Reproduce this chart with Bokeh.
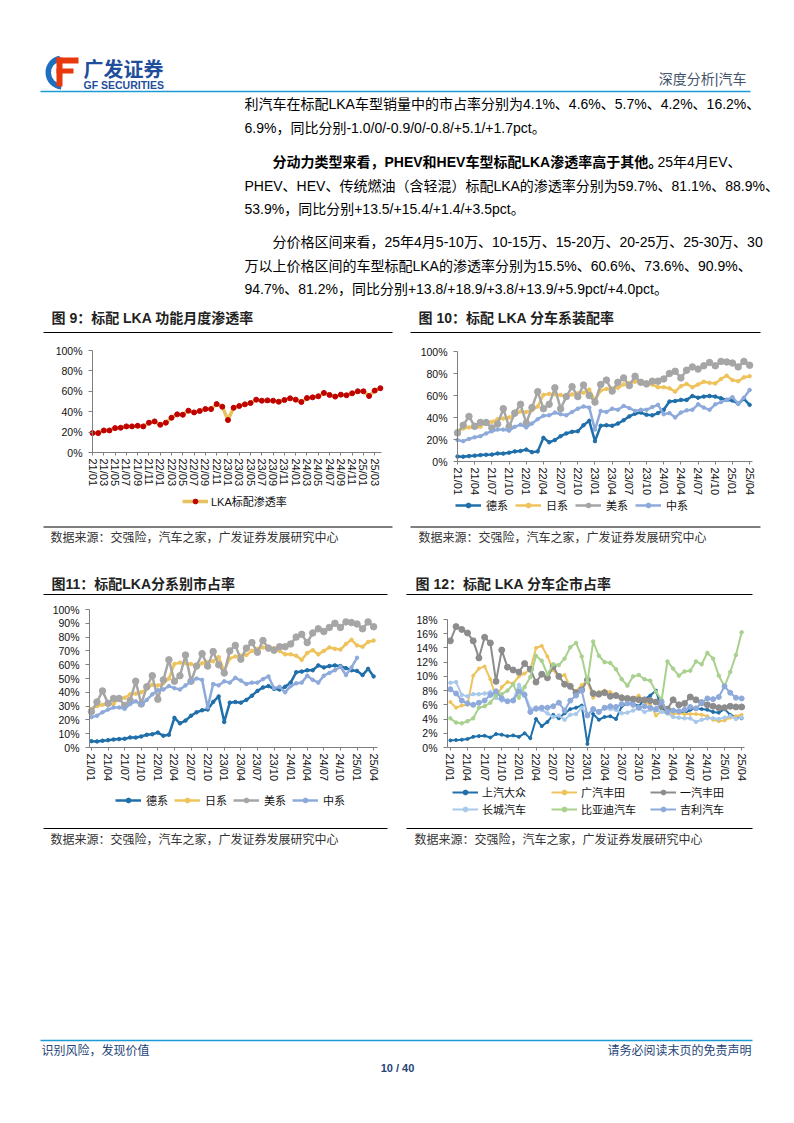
from bokeh.plotting import figure
from bokeh.layouts import column, row
from bokeh.models import Range1d, FixedTicker, PrintfTickFormatter, Legend, LegendItem
from bokeh.core.properties import value
from bokeh.embed import file_html
from bokeh.resources import INLINE
import math

# ---------------- data ----------------
months = ["21/01", "21/02", "21/03", "21/04", "21/05", "21/06", "21/07", "21/08", "21/09", "21/10", "21/11", "21/12",
          "22/01", "22/02", "22/03", "22/04", "22/05", "22/06", "22/07", "22/08", "22/09", "22/10", "22/11", "22/12",
          "23/01", "23/02", "23/03", "23/04", "23/05", "23/06", "23/07", "23/08", "23/09", "23/10", "23/11", "23/12",
          "24/01", "24/02", "24/03", "24/04", "24/05", "24/06", "24/07", "24/08", "24/09", "24/10", "24/11", "24/12",
          "25/01", "25/02", "25/03", "25/04"]

# Fig 9: LKA standard-fit penetration (%)
lka_rate = [19.0, 19.0, 21.6, 21.6, 23.9, 24.3, 25.6, 25.6, 26.2, 25.6,
            29.2, 30.5, 27.2, 29.2, 34.1, 37.4, 37.0, 41.0, 39.3, 40.7,
            42.6, 42.6, 47.5, 44.9, 31.8, 43.9, 45.6, 47.2, 48.5, 51.8,
            50.8, 51.1, 50.8, 49.8, 51.5, 53.1, 51.8, 49.5, 53.4, 54.1,
            55.1, 58.4, 56.4, 54.8, 56.7, 56.1, 58.0, 60.0, 60.0, 55.4,
            60.7, 63.0]

# Fig 10 / 11: by brand origin (%)
german = [4.6, 4.4, 4.9, 5.3, 5.8, 6.1, 6.3, 7.3, 7.2, 8.0,
          9.2, 9.6, 10.8, 8.5, 9.2, 21.5, 17.5, 19.5, 23.0, 25.5,
          27.0, 27.5, 33.0, 37.0, 18.5, 32.5, 33.0, 32.5, 34.5, 37.5,
          41.0, 43.5, 44.5, 42.5, 42.0, 44.0, 47.0, 54.5, 55.0, 56.0,
          56.0, 59.5, 58.0, 59.0, 59.5, 59.0, 57.5, 56.0, 55.5, 52.5,
          57.0, 51.5]
japanese = [28, 30, 31, 31, 31.5, 36, 36, 38.5, 39, 40,
            42.5, 45.5, 45, 46.5, 50, 60.5, 61.5, 61, 60.5, 59,
            61, 62, 62.5, 65.5, 55.5, 64.5, 66, 66.5, 67, 70,
            71.5, 72.5, 73, 72, 70, 67.5, 67.5, 66.5, 63.5, 68.5,
            70.5, 67.5, 70, 72.5, 71.5, 71, 75, 78, 74, 73,
            76.5, 77.5]
american = [26, 33, 41, 32, 35.5, 35.5, 30.5, 34, 48, 31.5,
            44, 52, 35, 49, 63.5, 48, 52, 67, 48, 59,
            68, 59, 69.5, 60, 54, 70, 74, 64, 72, 76,
            69, 77.5, 72, 70.5, 73, 73, 75, 80, 82, 76,
            83, 86, 84, 87, 90, 87, 91, 90.5, 89.5, 86,
            91, 87.5]
chinese10 = [19.5, 18.5, 20.5, 22, 23, 25.5, 27.5, 29, 29, 28,
             31.5, 33.5, 31, 34.5, 38.5, 41.5, 42, 44.5, 43, 42,
             45, 48, 50, 49, 29, 46, 45, 48, 47, 50.5,
             48.5, 46, 47, 47, 49.5, 51.5, 43, 44, 40, 44.5,
             46.5, 47, 52, 49, 47, 52, 54, 56, 58.5, 52.5,
             58, 65]
chinese11 = [22, 23, 25.5, 27.5, 29, 29, 28, 31.5, 33.5, 31,
             34.5, 38.5, 41.5, 42, 44.5, 43, 42, 45, 48, 50,
             49, 29, 46, 45, 48, 47, 50.5, 48.5, 46, 47,
             47, 49.5, 51.5, 43, 44, 40, 44.5, 46.5, 47, 52,
             49, 47, 52, 54, 56, 58.5, 52.5, 58, 65]

# Fig 12: by automaker (%)
saic_vw = [1.0, 1.05, 1.1, 1.2, 1.5, 1.6, 1.65, 1.4, 1.9, 1.8,
           1.6, 1.7, 1.5, 2.0, 1.3, 4.0, 3.0, 3.6, 4.6, 4.1,
           4.8, 5.4, 5.6, 5.9, 0.5, 4.7, 3.9, 4.3, 4.4, 4.0,
           5.8, 6.2, 6.2, 5.8, 6.8, 7.3, 8.0, 5.4, 5.2, 5.1,
           5.1, 4.8, 5.3, 5.5, 5.4, 5.3, 5.0, 4.9, 5.4, 4.6,
           4.3, 4.1]
gac_toyota = [6.4, 5.6, 5.9, 6.0, 10.1, 11.1, 11.4, 9.6, 7.0, 8.5,
              9.2, 9.0, 10.0, 10.4, 11.0, 14.0, 14.3, 12.8, 10.9, 9.9,
              10.2, 8.5, 7.9, 8.8, 9.3, 7.0, 7.8, 8.0, 7.8, 7.3,
              6.8, 6.6, 7.0, 7.3, 6.4, 6.0, 4.5, 5.1, 4.8, 4.7,
              4.8, 4.7, 4.7, 4.7, 4.6, 4.4, 3.9, 3.7, 3.8, 4.2,
              4.4, 4.6]
faw_toyota = [15.0, 17.0, 16.6, 16.1, 15.0, 12.6, 15.5, 14.7, 9.3, 13.7,
              11.3, 10.9, 10.6, 11.8, 11.0, 9.2, 10.3, 9.8, 11.4, 10.0,
              8.9, 8.6, 7.7, 8.1, 9.5, 7.6, 7.5, 7.7, 7.2, 7.3,
              7.0, 6.9, 6.8, 6.7, 6.7, 6.6, 6.4, 5.8, 5.4, 6.7,
              6.0, 6.2, 7.1, 6.7, 6.3, 6.0, 5.8, 5.6, 5.6, 5.8,
              5.7, 5.7]
gwm = [9.1, 9.2, 7.4, 7.2, 7.5, 7.5, 7.6, 7.8, 7.0, 6.6,
       6.5, 6.7, 8.8, 7.6, 5.5, 5.3, 5.3, 4.8, 4.3, 4.5,
       3.9, 4.6, 4.7, 5.6, 4.6, 5.3, 5.1, 5.5, 5.4, 5.3,
       4.8, 4.9, 5.2, 5.5, 5.0, 5.3, 5.2, 5.0, 4.8, 4.3,
       4.2, 4.1, 4.1, 3.6, 3.9, 4.1, 4.1, 4.0, 4.2, 4.4,
       4.0, 4.2]
byd = [4.1, 3.5, 3.4, 3.7, 4.1, 5.6, 5.8, 6.3, 7.3, 7.5,
       8.0, 8.9, 7.0, 8.5, 9.9, 12.9, 12.2, 10.3, 11.7, 11.6,
       12.5, 14.1, 14.7, 12.8, 9.2, 14.9, 12.9, 12.0, 11.9, 11.0,
       9.6, 8.7, 10.0, 10.2, 9.6, 9.4, 7.8, 6.7, 12.1, 11.1,
       10.1, 10.7, 10.8, 12.1, 11.7, 13.3, 12.5, 10.1, 8.6, 10.6,
       13.0, 16.2]
geely = [8.2, 7.6, 6.6, 6.2, 6.0, 6.3, 6.6, 7.4, 7.9, 6.9,
         6.5, 6.6, 7.9, 7.4, 5.0, 5.5, 5.6, 5.6, 5.8, 6.3,
         5.2, 6.6, 7.3, 8.0, 4.5, 5.4, 5.0, 5.6, 5.8, 5.7,
         6.1, 6.2, 6.0, 5.6, 5.8, 5.6, 5.4, 6.4, 5.0, 5.2,
         5.1, 5.3, 5.7, 5.5, 6.3, 6.9, 6.8, 7.1, 8.6, 7.7,
         7.0, 6.9]

origin_names = ["德系", "日系", "美系", "中系"]
maker_names = ["上汽大众", "广汽丰田", "一汽丰田", "长城汽车", "比亚迪汽车", "吉利汽车"]

# ---------------- styles ----------------
FONT = "Liberation Sans, Noto Sans CJK SC"
AXIS_C = "#7F7F7F"
C_DE = "#1F6FAA"
C_JP = "#EFC35B"
C_US = "#A6A6A6"
C_CN = "#8EAADB"
C_FAW = "#8C8C8C"
C_GWM = "#A9C9EB"
C_BYD = "#A9D18E"
HEAD_BLUE = "#1D9BD7"
FOOT_BLUE = "#264478"
PAGE_W = 794


def page_block(y0, y1):
    p = figure(width=PAGE_W, height=y1 - y0, x_range=Range1d(0, PAGE_W), y_range=Range1d(y1, y0),
               output_backend="svg", toolbar_location=None, x_axis_type=None, y_axis_type=None,
               title=None, min_border=0)
    p.outline_line_color = None
    return p


def txt(p, x, y, s, size="14px", color="#000000", bold=False, align="left"):
    p.text(x=[x], y=[y], text=[s], text_font=value(FONT), text_font_size=value(size),
           text_font_style="bold" if bold else "normal", text_color=color,
           text_align=align, text_baseline="middle")


def rule(p, x0, x1, y, color="#000000", w=1.0):
    p.segment(x0=[x0], y0=[y], x1=[x1], y1=[y], line_color=color, line_width=w)


def chart(w, h, L, R, T, B, x0, x1, ymax, ystep, tick_step):
    # The frame fills the whole figure; the data box [x0,x1]x[0,ymax] sits at
    # pixels L..R / T..B inside it, and both axes are fixed at the box edges so
    # that tick labels and legend are never clipped.
    sx = (x1 - x0) / (R - L)
    sy = ymax / (B - T)
    p = figure(width=w, height=h,
               x_range=Range1d(x0 - L * sx, x1 + (w - R) * sx),
               y_range=Range1d(-(h - B) * sy, ymax + T * sy),
               output_backend="svg", toolbar_location=None, title=None, min_border=0)
    p.grid.visible = False
    p.outline_line_color = None
    xa = p.xaxis[0]
    ya = p.yaxis[0]
    xa.fixed_location = 0
    xa.bounds = (x0, x1)
    ya.fixed_location = x0
    ya.bounds = (0, ymax)
    ticks = list(range(0, len(months), tick_step))
    xa.ticker = FixedTicker(ticks=ticks)
    xa.major_label_overrides = {t: months[t] for t in ticks}
    xa.major_label_orientation = "vertical"
    ya.ticker = FixedTicker(ticks=list(range(0, ymax + 1, ystep)))
    ya.formatter = PrintfTickFormatter(format="%d%%")
    for ax in (xa, ya):
        ax.axis_line_color = AXIS_C
        ax.axis_line_width = 1
        ax.major_tick_line_color = AXIS_C
        ax.major_tick_in = 0
        ax.minor_tick_line_color = None
        ax.major_label_text_font = "Liberation Sans"
        ax.major_label_text_color = "#111111"
    xa.major_tick_out = 3
    xa.major_label_standoff = 3
    xa.major_label_text_font_size = "11px"
    ya.major_tick_out = 4
    ya.major_label_standoff = 6
    ya.major_label_text_font_size = "10.5px"
    return p


def series(p, ys, color, lw, msize, label):
    xs = list(range(len(ys)))
    r1 = p.line(xs, ys, line_color=color, line_width=lw, line_join="round")
    r2 = p.scatter(xs, ys, marker="circle", size=msize, fill_color=color, line_color=color)
    return LegendItem(label=label, renderers=[r1, r2])


def add_legend(p, items, loc, label_width, standoff=5, ncols=None, spacing=0):
    lg = Legend(items=items, location=loc, orientation="horizontal", padding=0, margin=0,
                spacing=spacing, glyph_width=26, glyph_height=12, label_height=12,
                label_width=label_width, label_standoff=standoff,
                label_text_font=FONT, label_text_font_size="11px", label_text_color="#111111",
                border_line_alpha=0, background_fill_alpha=0)
    if ncols:
        lg.ncols = ncols
    p.add_layout(lg)


# ---------------- block A: header + text + first titles ----------------
A = page_block(0, 340)
# logo
A.annular_wedge(x=[62], y=[72], inner_radius=11.5, outer_radius=17,
                start_angle=math.radians(100), end_angle=math.radians(265),
                fill_color="#1E6FC0", line_color=None)
A.quad(left=[56, 56, 56], right=[62, 78, 73], top=[57, 57, 68], bottom=[86, 63, 73],
       fill_color="#E8380D", line_color=None)
txt(A, 83, 69, "广发证券", size="20px", color="#1F4E9C", bold=True)
txt(A, 83, 84, "GF SECURITIES", size="10.5px", color="#1F4E9C", bold=True)
txt(A, 746, 78, "深度分析|汽车", size="14px", color="#44546A", align="right")
rule(A, 40, 750, 91, color=HEAD_BLUE, w=1.6)

txt(A, 244, 103, "利汽车在标配LKA车型销量中的市占率分别为4.1%、4.6%、5.7%、4.2%、16.2%、")
txt(A, 244, 127, "6.9%，同比分别-1.0/0/-0.9/0/-0.8/+5.1/+1.7pct。")
txt(A, 272, 161, "分动力类型来看，PHEV和HEV车型标配LKA渗透率高于其他。", bold=True)
txt(A, 657, 161, "25年4月EV、")
txt(A, 244, 185, "PHEV、HEV、传统燃油（含轻混）标配LKA的渗透率分别为59.7%、81.1%、88.9%、")
txt(A, 244, 208, "53.9%，同比分别+13.5/+15.4/+1.4/+3.5pct。")
txt(A, 272, 241, "分价格区间来看，25年4月5-10万、10-15万、15-20万、20-25万、25-30万、30")
txt(A, 244, 265, "万以上价格区间的车型标配LKA的渗透率分别为15.5%、60.6%、73.6%、90.9%、")
txt(A, 244, 288, "94.7%、81.2%，同比分别+13.8/+18.9/+3.8/+13.9/+5.9pct/+4.0pct。")

txt(A, 51, 317, "图 9：标配 LKA 功能月度渗透率", size="14px", color="#222222", bold=True)
txt(A, 418, 317, "图 10：标配 LKA 分车系装配率", size="14px", color="#222222", bold=True)
rule(A, 43, 392, 332)
rule(A, 410, 760, 332)

# ---------------- row 1 (page y 340..522): fig 9 and fig 10 ----------------
p9 = chart(397, 182, 92, 381, 10, 112, 0, 51.2, 100, 20, 2)
xs9 = list(range(len(lka_rate)))
r9a = p9.line(xs9, lka_rate, line_color="#E7C35F", line_width=3.5, line_join="round")
r9b = p9.scatter(xs9, lka_rate, marker="circle", size=5, fill_color="#C00000", line_color="#C00000")
add_legend(p9, [LegendItem(label="LKA标配渗透率", renderers=[r9a, r9b])], (182, 13), 20, standoff=3)

p10 = chart(397, 182, 60, 355, 11, 121, 0, 51.5, 100, 20, 3)
items10 = [series(p10, german, C_DE, 2.5, 3.5, origin_names[0]),
           series(p10, japanese, C_JP, 2.5, 3.5, origin_names[1]),
           series(p10, american, C_US, 2.5, 6.5, origin_names[2]),
           series(p10, chinese10, C_CN, 2.5, 3.5, origin_names[3])]
add_legend(p10, items10, (58, 9), 29)

# ---------------- block B ----------------
B = page_block(522, 600)
rule(B, 43, 392, 526.5)
rule(B, 410, 760, 526.5)
src = "数据来源：交强险，汽车之家，广发证券发展研究中心"
txt(B, 50, 537, src, size="12px", color="#333333")
txt(B, 418, 537, src, size="12px", color="#333333")
txt(B, 51, 583, "图11：标配LKA分系别市占率", size="14px", color="#222222", bold=True)
txt(B, 415, 583, "图 12：标配 LKA 分车企市占率", size="14px", color="#222222", bold=True)
rule(B, 43, 387, 594)
rule(B, 406, 752, 594)

# ---------------- row 2 (page y 600..824): fig 11 and fig 12 ----------------
p11 = chart(397, 224, 89, 377, 9, 147, -0.35, 51.7, 100, 10, 3)
items11 = [series(p11, german, C_DE, 2.5, 3.5, origin_names[0]),
           series(p11, japanese, C_JP, 2.5, 3.5, origin_names[1]),
           series(p11, american, C_US, 2.5, 6.5, origin_names[2]),
           series(p11, chinese11, C_CN, 2.5, 3.5, origin_names[3])]
add_legend(p11, items11, (115, 16), 28)

p12 = chart(397, 224, 50, 347, 19, 147, -0.5, 51.5, 18, 2, 3)
items12 = [series(p12, saic_vw, C_DE, 2, 3, maker_names[0]),
           series(p12, gac_toyota, C_JP, 2, 3, maker_names[1]),
           series(p12, faw_toyota, C_FAW, 2, 6, maker_names[2]),
           series(p12, gwm, C_GWM, 2, 3.5, maker_names[3]),
           series(p12, byd, C_BYD, 2, 3.5, maker_names[4]),
           series(p12, geely, C_CN, 2, 5, maker_names[5])]
add_legend(p12, items12, (55, 7), 68, standoff=4, ncols=3, spacing=1)

# ---------------- block C ----------------
C = page_block(824, 1122)
rule(C, 43, 387, 828)
rule(C, 406, 752, 828)
txt(C, 50, 839, src, size="12px", color="#333333")
txt(C, 414, 839, src, size="12px", color="#333333")
rule(C, 40, 752, 1040, color=HEAD_BLUE, w=1.6)
txt(C, 41, 1050, "识别风险，发现价值", size="12px", color=FOOT_BLUE)
txt(C, 751, 1050, "请务必阅读末页的免责声明", size="12px", color=FOOT_BLUE, align="right")
txt(C, 397, 1067, "10 / 40", size="11px", color=FOOT_BLUE, bold=True, align="center")

page = column(A, row(p9, p10), B, row(p11, p12), C)

with open("out.html", "w") as f:
    f.write(file_html(page, INLINE))
